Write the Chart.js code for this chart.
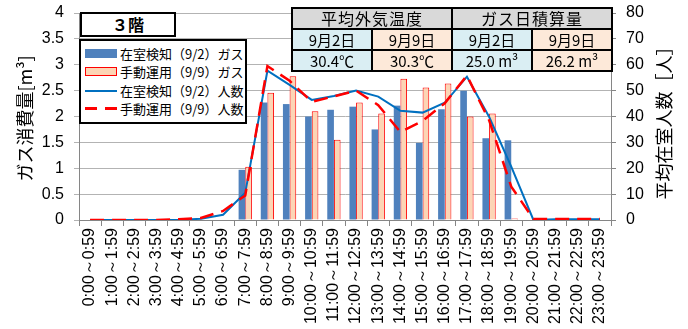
<!DOCTYPE html>
<html>
<head>
<meta charset="utf-8">
<script src="https://cdn.jsdelivr.net/npm/chart.js@4.4.0/dist/chart.umd.min.js"></script>
<style>
  html, body { margin: 0; padding: 0; background: #fff; }
  #wrap { position: relative; width: 688px; height: 329px; overflow: hidden; }
  #c { position: absolute; left: 0; top: 0; }
  .jp { font-family: "Noto Sans CJK JP", "Liberation Sans", sans-serif; color: #000; }
  #floor { position: absolute; left: 80px; top: 12px; width: 92px; height: 21px; border: 2px solid #000;
    background: #fff; font-weight: bold; font-size: 16px; line-height: 21px; text-align: center; }
  #legend { position: absolute; left: 79px; top: 39px; width: 164px; height: 81px; border: 2px solid #000;
    background: #fff; font-size: 13px; }
  .item { position: absolute; left: 0; height: 18px; line-height: 18px; width: 164px; }
  .item span { position: absolute; left: 39px; top: 0; white-space: nowrap; }
  .sw { position: absolute; left: 4px; width: 32px; }
  #tbl { position: absolute; left: 291px; top: 7px; border-collapse: collapse; font-size: 15px; }
  #tbl td { border: 2px solid #000; text-align: center; padding: 0; height: 19px; line-height: 19px; width: 78px; }
  #tbl .hd { background: #d9d9d9; font-size: 16px; letter-spacing: 1px; }
  #tbl .b { background: #daeef3; }
  #tbl .p { background: #fde9d9; }
</style>
</head>
<body>
<div id="wrap">
  <canvas id="c" width="688" height="329"></canvas>
  <div id="floor" class="jp">３階</div>
  <div id="legend" class="jp"></div>
  <table id="tbl" class="jp">
    <tr><td class="hd" colspan="2">平均外気温度</td><td class="hd" colspan="2">ガス日積算量</td></tr>
    <tr><td class="b">9月2日</td><td class="p">9月9日</td><td class="b">9月2日</td><td class="p">9月9日</td></tr>
    <tr><td class="b">30.4℃</td><td class="p">30.3℃</td><td class="b">25.0 m³</td><td class="p">26.2 m³</td></tr>
  </table>
</div>
<script>
const hours = ['0:00～0:59', '1:00～1:59', '2:00～2:59', '3:00～3:59', '4:00～4:59', '5:00～5:59',
  '6:00～6:59', '7:00～7:59', '8:00～8:59', '9:00～9:59', '10:00～10:59', '11:00～11:59',
  '12:00～12:59', '13:00～13:59', '14:00～14:59', '15:00～15:59', '16:00～16:59', '17:00～17:59',
  '18:00～18:59', '19:00～19:59', '20:00～20:59', '21:00～21:59', '22:00～22:59', '23:00～23:59'];

const gasSensor = [0, 0, 0, 0, 0, 0, 0, 0.97, 2.27, 2.24, 2.00, 2.13, 2.19, 1.75, 2.21, 1.49, 2.14, 2.50, 1.58, 1.54, 0, 0, 0, 0];
const gasManual = [0, 0, 0, 0, 0, 0, 0, 1.03, 2.46, 2.78, 2.10, 1.55, 2.27, 2.06, 2.73, 2.56, 2.64, 2.00, 2.06, 0.03, 0, 0, 0, 0];
const peopleSensor = [0, 0, 0, 0, 0, 0.5, 2, 10.5, 57.7, 52.2, 46.4, 47.9, 50.0, 47.7, 42.2, 41.5, 45.3, 55.4, 39.9, 20.6, 0, 0.3, 0.3, 0.3];
const peopleManual = [0, 0, 0, 0, 0.3, 0.8, 3.5, 9.5, 59.5, 53.8, 45.7, 47.8, 50.0, 44.4, 34.0, 38.3, 45.1, 55.8, 38.6, 12.9, 0.4, 0.4, 0.4, 0.4];

const gasTicks = [0, 0.5, 1, 1.5, 2, 2.5, 3, 3.5, 4];
const peopleTicks = [0, 10, 20, 30, 40, 50, 60, 70, 80];

const tickFont = { family: 'Liberation Sans', size: 16 };

// axis titles: both read bottom-to-top as in the original
const titles = {
  id: 'titles',
  afterDraw(chart) {
    const ctx = chart.ctx;
    const mid = (chart.chartArea.top + chart.chartArea.bottom) / 2 + 2;
    ctx.save();
    ctx.fillStyle = '#000';
    ctx.font = '18px "Noto Sans CJK JP"';
    ctx.textAlign = 'center';
    ctx.textBaseline = 'middle';
    [[25, 'ガス消費量[m³]'], [664, '平均在室人数［人］']].forEach(([x, t]) => {
      ctx.save();
      ctx.translate(x, mid);
      ctx.rotate(-Math.PI / 2);
      ctx.fillText(t, 0, 0);
      ctx.restore();
    });
    ctx.restore();
  }
};

// fixed side widths, no extra room for the end labels
function fitSide(w) {
  return s => { s.width = w; s.paddingTop = 0; s.paddingBottom = 0; };
}

const chart = new Chart(document.getElementById('c'), {
  data: {
    labels: hours,
    datasets: [
      { type: 'line', label: '在室検知（9/2）人数', data: peopleSensor, yAxisID: 'y2', order: 1,
        borderColor: '#0070c0', borderWidth: 2, pointRadius: 0, tension: 0 },
      { type: 'line', label: '手動運用（9/9）人数', data: peopleManual, yAxisID: 'y2', order: 0,
        borderColor: '#ff0000', borderWidth: 2.5, borderDash: [14, 8], pointRadius: 0, tension: 0 },
      { type: 'bar', label: '在室検知（9/2）ガス', data: gasSensor, yAxisID: 'y', order: 2,
        backgroundColor: '#4f81bd', borderWidth: 0, categoryPercentage: 0.6, barPercentage: 1 },
      { type: 'bar', label: '手動運用（9/9）ガス', data: gasManual, yAxisID: 'y', order: 3,
        backgroundColor: '#fcd5b5', borderColor: '#ff0000', categoryPercentage: 0.6, barPercentage: 1,
        borderWidth: c => (c.raw > 0 ? 1 : 0) }
    ]
  },
  options: {
    responsive: false,
    animation: false,
    layout: { padding: { top: 13, left: 0, right: 0, bottom: 0 } },
    plugins: { legend: { display: false }, tooltip: { enabled: false } },
    scales: {
      x: {
        grid: { drawOnChartArea: false, color: '#868686', tickLength: 6 },
        border: { color: '#868686' },
        ticks: { autoSkip: false, maxRotation: 90, minRotation: 90, color: '#000', padding: 2,
          font: { family: 'Liberation Sans', size: 16 } },
        afterFit(s) { s.height = 109; s.paddingLeft = 0; s.paddingRight = 0; }
      },
      y: {
        position: 'left', min: 0, max: 4,
        afterBuildTicks(s) { s.ticks = gasTicks.map(v => ({ value: v })); },
        grid: { color: '#b3b3b3', tickLength: 5 },
        border: { color: '#868686' },
        ticks: { color: '#000', font: tickFont, padding: 10, callback: v => String(v) },
        afterFit: fitSide(79)
      },
      y2: {
        position: 'right', min: 0, max: 80,
        afterBuildTicks(s) { s.ticks = peopleTicks.map(v => ({ value: v })); },
        grid: { drawOnChartArea: false, color: '#868686', tickLength: 5 },
        border: { color: '#868686' },
        ticks: { color: '#000', font: tickFont, padding: 10 },
        afterFit: fitSide(77)
      }
    }
  },
  plugins: [titles]
});

// legend built from the chart's datasets
const legendOrder = [2, 3, 0, 1];
const legend = document.getElementById('legend');
legendOrder.forEach((di, k) => {
  const ds = chart.data.datasets[di];
  const item = document.createElement('div');
  item.className = 'item';
  item.style.top = (4 + k * 18.3) + 'px';
  const sw = document.createElement('div');
  sw.className = 'sw';
  if (ds.type === 'bar') {
    const framed = ds.borderColor !== undefined;
    sw.style.top = '4px';
    sw.style.height = (framed ? 7 : 9) + 'px';
    sw.style.width = (framed ? 30 : 32) + 'px';
    sw.style.background = ds.backgroundColor;
    if (framed) sw.style.border = '1px solid ' + ds.borderColor;
  } else if (ds.borderDash) {
    sw.style.top = '7px';
    sw.style.height = '3px';
    sw.style.background = 'repeating-linear-gradient(90deg, ' + ds.borderColor + ' 0 12px, transparent 12px 20px)';
  } else {
    sw.style.top = '8px';
    sw.style.height = '2px';
    sw.style.background = ds.borderColor;
  }
  item.appendChild(sw);
  const t = document.createElement('span');
  t.textContent = ds.label;
  item.appendChild(t);
  legend.appendChild(item);
});
</script>
</body>
</html>
